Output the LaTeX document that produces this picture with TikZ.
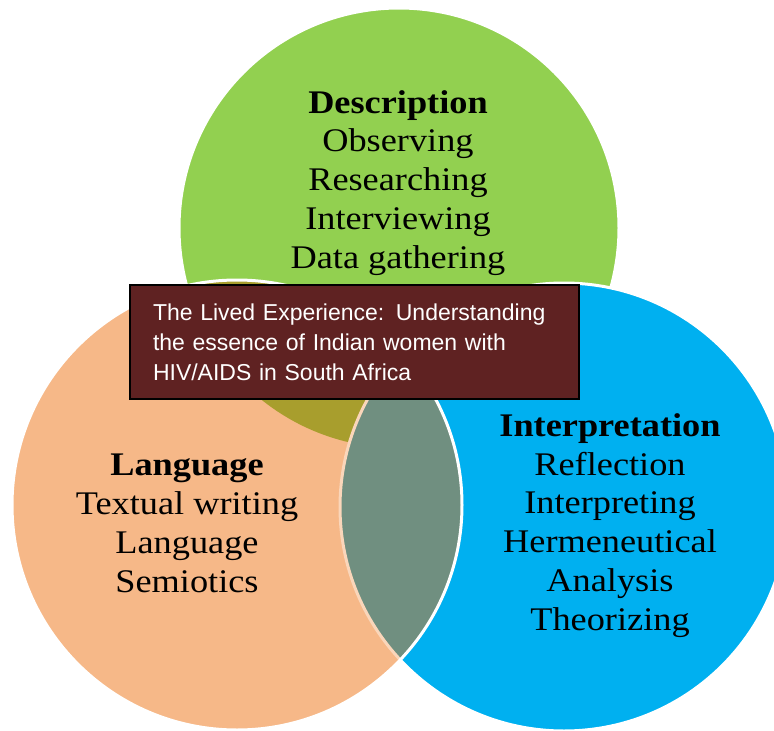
\documentclass[tikz,border=0pt]{standalone}
\usepackage{fontspec}
\setmainfont{Liberation Serif}
\setsansfont{Liberation Sans}
\usepackage{tikz}

\definecolor{descgreen}{RGB}{146,208,80}
\definecolor{interblue}{RGB}{0,176,240}
\definecolor{langorange}{RGB}{246,184,136}
\definecolor{olivemix}{RGB}{168,158,45}
\definecolor{lensmix}{RGB}{112,143,128}
\definecolor{rimorange}{RGB}{250,214,186}
\definecolor{titlebrown}{RGB}{95,34,34}

\tikzset{
  venntext/.style={align=center, anchor=base, xscale=1.1, inner sep=0pt,
    font=\fontsize{33}{38.7}\selectfont},
  titlebox/.style={draw=black, line width=2pt, fill=titlebrown, text=white,
    anchor=north west, minimum width=449pt, minimum height=114pt,
    inner xsep=23pt, text width=403pt, align=left,
    font=\sffamily\fontsize{23}{30}\selectfont},
}

\begin{document}
\begin{tikzpicture}[x=1pt, y=-1pt, line width=3pt]
    \useasboundingbox (0,0) rectangle (774,731);

    % green circle, then blue one over it
    \fill[descgreen] (399,228) circle (220pt);
    \draw[white] (399,228) circle (220pt);
    \fill[interblue] (564,507) circle (224pt);
    \draw[white] (564,507) circle (224pt);

    % orange circle and its overlaps
    \fill[langorange] (237,505) circle (225pt);
    \begin{scope}
      \clip (237,505) circle (225pt);
      \fill[olivemix] (399,228) circle (220pt);
      \fill[lensmix] (564,507) circle (224pt);
      \draw[rimorange] (564,507) circle (224pt);
    \end{scope}
    \draw[white] (237,505) circle (225pt);

    % labels (placed at the baseline of their last line)
    \node[venntext] (desc) at (398,268)
      {\textbf{Description}\\Observing\\Researching\\Interviewing\\Data gathering};
    \node[venntext] (lang) at (187,592)
      {\textbf{Language}\\Textual writing\\Language\\Semiotics};
    \node[venntext] (interp) at (610,630)
      {\textbf{Interpretation}\\Reflection\\Interpreting\\Hermeneutical\\Analysis\\Theorizing};

    % centre box
    \node[titlebox] (title) at (129,284)
      {The Lived Experience: Understanding\\the essence of Indian women with\\HIV/AIDS in South Africa};
\end{tikzpicture}
\end{document}
